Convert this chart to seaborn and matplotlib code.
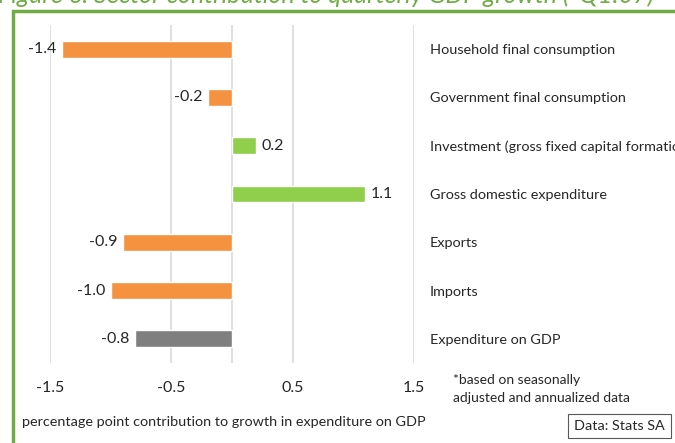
import matplotlib
matplotlib.use("Agg")
import matplotlib.pyplot as plt
from matplotlib.patches import Rectangle
import seaborn as sns
import pandas as pd

# Contribution of expenditure components to GDP growth (percentage points)
categories = [
    "Household final consumption",
    "Government final consumption",
    "Investment (gross fixed capital formation)",
    "Gross domestic expenditure",
    "Exports",
    "Imports",
    "Expenditure on GDP",
]
values = [-1.4, -0.2, 0.2, 1.1, -0.9, -1.0, -0.8]
kinds = ["neg", "neg", "pos", "pos", "neg", "neg", "total"]
x_ticks = [-1.5, -0.5, 0.5, 1.5]
x_tick_labels = ["-1.5", "-0.5", "0.5", "1.5"]

palette = {"neg": "#f59240", "pos": "#8fcf4c", "total": "#7f7f7f"}
green = "#6fac46"
text_color = "#262626"

sns.set_theme(style="white")
plt.rcParams["font.family"] = ["Lato", "DejaVu Sans"]

df = pd.DataFrame({"category": categories, "value": values, "kind": kinds})

fig = plt.figure(figsize=(6.75, 4.43), dpi=100)
fig.patch.set_facecolor("white")
ax = fig.add_axes([50 / 675, 1 - 363 / 443, 364 / 675, 338 / 443])

sns.barplot(data=df, x="value", y="category", hue="kind", palette=palette,
            dodge=False, width=0.35, legend=False, orient="h", ax=ax,
            saturation=1)

ax.set_xlim(-1.5, 1.5)
ax.set_ylim(6.5, -0.5)
ax.set_xticks(x_ticks)
ax.set_xticklabels(x_tick_labels)
for xv in x_ticks + [0]:
    ax.axvline(xv, color="#d9d9d9", lw=1.2, zorder=0)
for s in ax.spines.values():
    s.set_visible(False)
ax.set_xlabel("")
ax.set_ylabel("")
ax.yaxis.tick_right()
ax.tick_params(axis="y", length=0, pad=11.5, labelsize=10.4, labelcolor=text_color)
ax.tick_params(axis="x", length=0, pad=13, labelsize=11.5, labelcolor=text_color)

# value labels at the bar ends
for i, v in enumerate(values):
    if v < 0:
        ax.annotate(f"{v:.1f}", (v, i), xytext=(-4, 0), textcoords="offset points",
                    ha="right", va="center", fontsize=11.5, color=text_color)
    else:
        ax.annotate(f"{v:.1f}", (v, i), xytext=(4, 0), textcoords="offset points",
                    ha="left", va="center", fontsize=11.5, color=text_color)

# frame of the figure panel
fig.add_artist(Rectangle((13 / 675, -0.2), 1.2, 0.2 + 1 - 11 / 443,
                         transform=fig.transFigure, fill=False,
                         edgecolor=green, lw=2.5))
fig.text(-2 / 675, 1 - 3 / 443, "Figure 6: Sector contribution to quarterly GDP growth (*Q1:07)",
         ha="left", va="baseline", fontsize=18, style="italic", color=green)

fig.text(453 / 675, 1 - 380 / 443, "*based on seasonally", ha="left", va="center",
         fontsize=10, color=text_color)
fig.text(453 / 675, 1 - 398 / 443, "adjusted and annualized data", ha="left", va="center",
         fontsize=10, color=text_color)
fig.text(22 / 675, 1 - 422 / 443,
         "percentage point contribution to growth in expenditure on GDP",
         ha="left", va="center", fontsize=10.4, color=text_color)
fig.text(574 / 675, 1 - 426 / 443, "Data: Stats SA", ha="left", va="center",
         fontsize=10.4, color=text_color,
         bbox=dict(boxstyle="square,pad=0.42", fc="white", ec="#595959", lw=0.8))

fig.savefig("out.png", dpi=100)
